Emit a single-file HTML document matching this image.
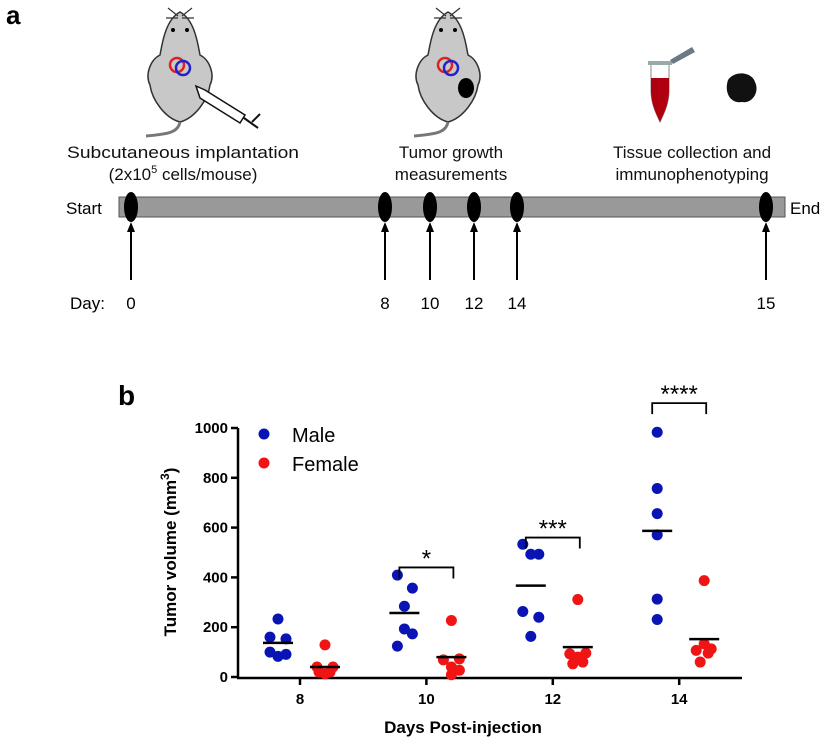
<!DOCTYPE html>
<html><head><meta charset="utf-8">
<style>
body{margin:0;background:#fff;}
svg{display:block;font-family:"Liberation Sans",Arial,sans-serif;}
</style></head>
<body>
<svg id="fig" width="830" height="750" viewBox="0 0 830 750">
<!-- Panel a -->
<text x="6" y="24" font-size="26" font-weight="bold">a</text>
<g transform="translate(0,-10)">
  <path d="M180 22 C165 30 162 55 160 65 C150 70 145 85 150 95 C152 110 165 128 180 132 C195 128 208 110 210 95 C215 85 210 70 200 65 C198 55 195 30 180 22Z" fill="#c8c8c8" stroke="#333" stroke-width="1.5"/>
  <path d="M180 132 C178 142 170 144 146 146" fill="none" stroke="#777" stroke-width="3"/>
  <path d="M168 18 L178 26 M192 18 L182 26 M166 28 L178 28 M194 28 L182 28" stroke="#333" stroke-width="1.2"/>
  <circle cx="173" cy="40" r="2" fill="#000"/><circle cx="187" cy="40" r="2" fill="#000"/>
  <circle cx="177" cy="75" r="7" fill="none" stroke="#d22" stroke-width="2.5"/>
  <circle cx="183" cy="78" r="7" fill="none" stroke="#22c" stroke-width="2.5"/>
  <path d="M196 96 L205 100 L245 125 L240 133 L200 108Z" fill="#fff" stroke="#111" stroke-width="1.5"/>
  <path d="M244 128 L258 138 M252 132 L260 124" stroke="#111" stroke-width="2"/>
</g>
<g transform="translate(0,-10)">
  <path d="M448 22 C433 30 430 55 428 65 C418 70 413 85 418 95 C420 110 433 128 448 132 C463 128 476 110 478 95 C483 85 478 70 468 65 C466 55 463 30 448 22Z" fill="#c8c8c8" stroke="#333" stroke-width="1.5"/>
  <path d="M448 132 C446 142 438 144 414 146" fill="none" stroke="#777" stroke-width="3"/>
  <path d="M436 18 L446 26 M460 18 L450 26 M434 28 L446 28 M462 28 L450 28" stroke="#333" stroke-width="1.2"/>
  <circle cx="441" cy="40" r="2" fill="#000"/><circle cx="455" cy="40" r="2" fill="#000"/>
  <circle cx="445" cy="75" r="7" fill="none" stroke="#d22" stroke-width="2.5"/>
  <circle cx="451" cy="78" r="7" fill="none" stroke="#22c" stroke-width="2.5"/>
  <ellipse cx="466" cy="98" rx="8" ry="10" fill="#000"/>
</g>
<g>
  <path d="M651 64 L669 64 L669 90 C669 105 663 115 660 122 C657 115 651 105 651 90Z" fill="#fff" stroke="#888" stroke-width="1"/>
  <path d="M651 78 L669 78 L669 90 C669 105 663 115 660 122 C657 115 651 105 651 90Z" fill="#b00010"/>
  <rect x="648" y="61" width="24" height="4" fill="#9aa"/>
  <path d="M670 60 L692 47 L695 52 L673 64Z" fill="#6a7a85"/>
</g>
<path d="M728 80 C735 70 752 72 755 82 C760 92 752 104 742 102 C730 104 724 92 728 80Z" fill="#111"/>
<g font-size="17" text-anchor="middle" fill="#111">
  <text x="183" y="158" textLength="232" lengthAdjust="spacingAndGlyphs">Subcutaneous implantation</text>
  <text x="183" y="180">(2x10<tspan font-size="11" dy="-7">5</tspan><tspan dy="7"> cells/mouse)</tspan></text>
  <text x="451" y="158">Tumor growth</text>
  <text x="451" y="180">measurements</text>
  <text x="692" y="158">Tissue collection and</text>
  <text x="692" y="180">immunophenotyping</text>
</g>
<rect x="119" y="197" width="666" height="20" fill="#999" stroke="#555" stroke-width="1"/>
<text x="66" y="214" font-size="17">Start</text>
<text x="790" y="214" font-size="17">End</text>
<text x="70" y="309" font-size="17">Day:</text>
<g id="timeline"></g>

<!-- Panel b -->
<text x="118" y="405" font-size="28" font-weight="bold">b</text>
<g id="chart"></g>
</svg>
<script>
const NS="http://www.w3.org/2000/svg";
function mk(tag,attrs,parent){const e=document.createElementNS(NS,tag);for(const k in attrs)e.setAttribute(k,attrs[k]);parent.appendChild(e);return e;}

// timeline
const tlDays=[0,8,10,12,14,15];
const tlX=[131,385,430,474,517,766];
const tl=document.getElementById('timeline');
tlDays.forEach((d,i)=>{
  const x=tlX[i];
  const el=mk('ellipse',{cx:x,cy:207,rx:7,ry:15,fill:'#000'},tl);
  
  
  const ln=mk('line',{x1:x,y1:280,x2:x,y2:228,stroke:'#000','stroke-width':2},tl);
  
  
  const ah=mk('path',{d:`M${x-4} 232 L${x} 222 L${x+4} 232Z`,fill:'#000'},tl);
  
  
  const t=mk('text',{x:x,y:309,'font-size':17,'text-anchor':'middle'},tl);
  t.textContent=d;
  
  
});

// chart data
const days=[8,10,12,14];
const maleVals=[[233,160,153,100,83,91],[409,357,284,193,173,124],[533,493,493,263,240,163],[983,757,656,571,313,231]];
const femaleVals=[[129,40,40,13,20,20],[227,69,73,40,9,27],[311,93,96,80,53,60],[387,107,113,133,96,60]];
const maleMeans=[137,257,367,587];
const femaleMeans=[40,80,120,152];
const yTicks=[0,200,400,600,800,1000];
const sigLabels=['','*','***','****'];
const sigHeights=[0,440,560,1100];

const ch=document.getElementById('chart');
const x0=238,xDay8=300,xStep=63.2;
const xS=d=>xDay8+(d-8)*xStep;
const yS=v=>677-v*0.249;
const mOffX=[[-22,-30,-14,-30,-22,-14],[-29,-14,-22,-22,-14,-29],[-30,-22,-14,-30,-14,-22],[-22,-22,-22,-22,-22,-22]];
const fOffX=[[25,17,33,25,19,30],[25,17,33,25,25,33],[25,17,33,25,20,30],[25,17,32,25,29,21]];

// axes
let a=mk('line',{x1:x0,y1:428,x2:x0,y2:678,stroke:'#000','stroke-width':2.5},ch);

a=mk('line',{x1:x0-1,y1:678,x2:742,y2:678,stroke:'#000','stroke-width':2.5},ch);

yTicks.forEach(v=>{
  const y=yS(v);
  const l=mk('line',{x1:x0-7,y1:y,x2:x0,y2:y,stroke:'#000','stroke-width':2.5},ch);
  
  const t=mk('text',{x:x0-10,y:y+5,'font-size':15,'font-weight':'bold','text-anchor':'end'},ch);
  t.textContent=v;
  
});
days.forEach(d=>{
  const x=xS(d);
  const l=mk('line',{x1:x,y1:678,x2:x,y2:685,stroke:'#000','stroke-width':2.5},ch);
  
  const t=mk('text',{x:x,y:704,'font-size':15,'font-weight':'bold','text-anchor':'middle'},ch);
  t.textContent=d;
  
});
let t=mk('text',{x:463,y:733,'font-size':17,'font-weight':'bold','text-anchor':'middle'},ch);
t.textContent='Days Post-injection';

t=mk('text',{x:0,y:0,'font-size':17,'font-weight':'bold','text-anchor':'middle',transform:'translate(176,552) rotate(-90)'},ch);
t.innerHTML='Tumor volume (mm<tspan font-size="12" dy="-7">3</tspan><tspan dy="7">)</tspan>';


// points
days.forEach((d,i)=>{
  const cx=xS(d);
  maleVals[i].forEach((v,j)=>{
    const c=mk('circle',{cx:cx+mOffX[i][j],cy:yS(v),r:5.5,fill:'#0a14b4'},ch);
    
  });
  femaleVals[i].forEach((v,j)=>{
    const c=mk('circle',{cx:cx+fOffX[i][j],cy:yS(v),r:5.5,fill:'#f01414'},ch);
    
  });
  let l=mk('line',{x1:cx-37,y1:yS(maleMeans[i]),x2:cx-7,y2:yS(maleMeans[i]),stroke:'#000','stroke-width':2.5},ch);
  
  l=mk('line',{x1:cx+10,y1:yS(femaleMeans[i]),x2:cx+40,y2:yS(femaleMeans[i]),stroke:'#000','stroke-width':2.5},ch);
  
  if(sigLabels[i]){
    const yb=yS(sigHeights[i]);
    const b=mk('path',{d:`M${cx-27} ${yb+11} V${yb} H${cx+27} V${yb+11}`,fill:'none',stroke:'#000','stroke-width':1.8},ch);
    
    const s=mk('text',{x:cx,y:yb-1,'font-size':24,'text-anchor':'middle'},ch);
    s.textContent=sigLabels[i];
    
  }
});

// legend
let c=mk('circle',{cx:264,cy:434,r:5.5,fill:'#0a14b4'},ch);

t=mk('text',{x:292,y:442,'font-size':20},ch);t.textContent='Male';

c=mk('circle',{cx:264,cy:463,r:5.5,fill:'#f01414'},ch);

t=mk('text',{x:292,y:471,'font-size':20},ch);t.textContent='Female';

</script>
</body></html>
